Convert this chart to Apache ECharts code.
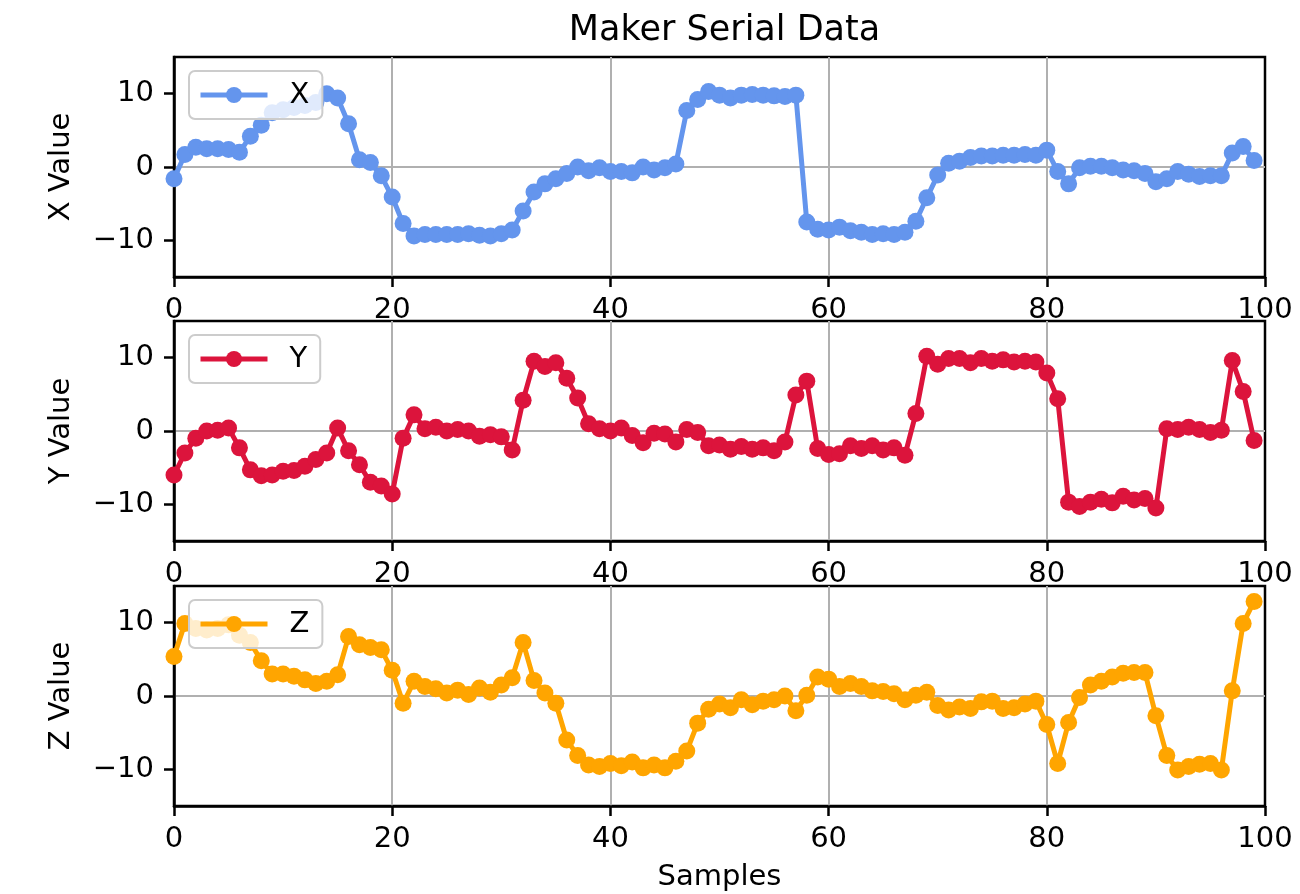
<!DOCTYPE html>
<html>
<head>
<meta charset="utf-8">
<title>Maker Serial Data</title>
<script src="https://cdn.jsdelivr.net/npm/echarts@6/dist/echarts.min.js"></script>
<style>
  html, body { margin: 0; padding: 0; background: #fff; }
  #chart { width: 1300px; height: 894px; }
</style>
</head>
<body>
<div id="chart"></div>
<script>
// Accelerometer readings, one value per sample (0..99)
const xValues = [
  -1.6, 1.7, 2.7, 2.5, 2.5, 2.4, 2.0, 4.2, 5.7, 7.4,
  7.8, 8.1, 8.4, 8.8, 10.0, 9.4, 5.9, 1.0, 0.6, -1.2,
  -4.1, -7.7, -9.4, -9.2, -9.2, -9.2, -9.2, -9.1, -9.3, -9.4,
  -9.1, -8.6, -6.0, -3.4, -2.3, -1.6, -0.9, 0.0, -0.5, -0.1,
  -0.6, -0.6, -0.8, 0.0, -0.4, -0.1, 0.4, 7.7, 9.2, 10.3,
  9.8, 9.4, 9.8, 9.9, 9.8, 9.7, 9.6, 9.8, -7.5, -8.5,
  -8.6, -8.2, -8.7, -8.9, -9.2, -9.1, -9.2, -8.9, -7.4, -4.2,
  -1.1, 0.5, 0.8, 1.3, 1.5, 1.5, 1.6, 1.6, 1.7, 1.6,
  2.3, -0.6, -2.3, -0.1, 0.1, 0.1, -0.1, -0.4, -0.5, -0.9,
  -2.0, -1.6, -0.6, -1.0, -1.3, -1.2, -1.2, 1.9, 2.8, 0.9
];
const yValues = [
  -6.0, -3.0, -1.0, 0.0, 0.1, 0.4, -2.3, -5.3, -6.1, -6.0,
  -5.5, -5.4, -4.8, -3.9, -3.0, 0.4, -2.7, -4.6, -7.0, -7.5,
  -8.6, -1.0, 2.2, 0.3, 0.5, 0.0, 0.2, 0.0, -0.7, -0.5,
  -0.8, -2.6, 4.2, 9.5, 8.8, 9.3, 7.2, 4.5, 1.0, 0.3,
  0.0, 0.4, -0.6, -1.6, -0.3, -0.4, -1.5, 0.2, -0.2, -2.0,
  -1.9, -2.5, -2.1, -2.5, -2.3, -2.7, -1.5, 4.9, 6.8, -2.4,
  -3.2, -3.1, -2.0, -2.4, -2.0, -2.6, -2.3, -3.3, 2.4, 10.2,
  9.1, 9.9, 9.9, 9.3, 9.9, 9.5, 9.7, 9.4, 9.5, 9.4,
  7.9, 4.4, -9.7, -10.3, -9.7, -9.3, -9.8, -8.9, -9.4, -9.2,
  -10.5, 0.3, 0.2, 0.5, 0.2, -0.2, 0.1, 9.6, 5.4, -1.3
];
const zValues = [
  5.4, 9.9, 9.2, 9.0, 9.2, 9.7, 8.3, 7.3, 4.8, 3.0,
  3.0, 2.7, 2.2, 1.7, 2.0, 2.9, 8.1, 7.0, 6.6, 6.3,
  3.5, -1.0, 2.0, 1.3, 1.0, 0.4, 0.8, 0.2, 1.1, 0.5,
  1.5, 2.5, 7.3, 2.1, 0.4, -1.0, -6.0, -8.1, -9.4, -9.6,
  -9.2, -9.5, -9.0, -9.8, -9.4, -9.8, -8.9, -7.5, -3.7, -1.8,
  -1.1, -1.6, -0.5, -1.2, -0.7, -0.5, 0.0, -2.0, 0.1, 2.6,
  2.3, 1.3, 1.7, 1.3, 0.7, 0.6, 0.3, -0.5, 0.1, 0.5,
  -1.3, -1.9, -1.5, -1.7, -0.8, -0.7, -1.7, -1.6, -1.1, -0.7,
  -3.9, -9.2, -3.6, -0.2, 1.5, 2.0, 2.6, 3.1, 3.2, 3.2,
  -2.7, -8.1, -10.1, -9.6, -9.3, -9.2, -10.1, 0.7, 9.9, 12.9
];

const seriesNames = ['X', 'Y', 'Z'];
const axisTitles = ['X Value', 'Y Value', 'Z Value'];
const seriesColors = ['#6495ED', '#DC143C', '#FFA500'];
const yTickValues = [-10, 0, 10];
const chartTitle = 'Maker Serial Data';
const xAxisTitle = 'Samples';

const allValues = [xValues, yValues, zValues];
const FONT = 'DejaVu Sans';
const GRID_TOPS = [57, 321, 586];
const GRID_H = 220;
const PLOT_LEFT = 174, PLOT_RIGHT_GAP = 35;
const LINE_W = 5;

const minusFmt = v => (v < 0 ? '\u2212' + Math.abs(v) : String(v));

const grids = [], xAxes = [], yAxes = [], series = [], legends = [];

allValues.forEach((vals, i) => {
  grids.push({
    left: PLOT_LEFT, right: PLOT_RIGHT_GAP, top: GRID_TOPS[i], height: GRID_H,
    show: true, borderColor: '#000', borderWidth: 2.5, backgroundColor: 'transparent',
    containLabel: false
  });
  xAxes.push({
    type: 'value', gridIndex: i, min: 0, max: 100, interval: 20,
    name: i === 2 ? xAxisTitle : '',
    nameLocation: 'middle', nameGap: 57,
    nameTextStyle: { fontFamily: FONT, fontSize: 29, color: '#000' },
    axisLine: { show: true, onZero: false, lineStyle: { color: '#000', width: 2.5 } },
    axisTick: { show: true, inside: false, length: 10, lineStyle: { color: '#000', width: 2.5 } },
    axisLabel: { fontFamily: FONT, fontSize: 29, color: '#000', margin: 19 },
    splitLine: { show: true, showMinLine: false, showMaxLine: false,
      lineStyle: { color: '#b0b0b0', width: 2 } }
  });
  yAxes.push({
    type: 'value', gridIndex: i, min: -15, max: 15, splitNumber: 3,
    name: axisTitles[i], nameLocation: 'middle', nameGap: 98,
    nameTextStyle: { fontFamily: FONT, fontSize: 29, color: '#000' },
    axisLine: { show: true, lineStyle: { color: '#000', width: 2.5 } },
    axisTick: { show: true, inside: false, length: 10, customValues: yTickValues,
      lineStyle: { color: '#000', width: 2.5 } },
    axisLabel: { fontFamily: FONT, fontSize: 29, color: '#000', margin: 20,
      customValues: yTickValues, formatter: minusFmt },
    splitLine: { show: true, showMinLine: false, showMaxLine: false,
      lineStyle: { color: '#b0b0b0', width: 2 } }
  });
  series.push({
    name: seriesNames[i], type: 'line', xAxisIndex: i, yAxisIndex: i,
    data: vals.map((v, k) => [k, v]),
    symbol: 'circle', symbolSize: 17, showSymbol: true,
    lineStyle: { color: seriesColors[i], width: LINE_W },
    itemStyle: { color: seriesColors[i] },
    emphasis: { disabled: true },
    z: 3
  });
  legends.push({
    data: [seriesNames[i]],
    left: 189, top: GRID_TOPS[i] + 14,
    orient: 'horizontal',
    itemWidth: 67, itemHeight: 20,
    padding: [8, 13, 8, 9],
    backgroundColor: 'rgba(255,255,255,0.8)',
    borderColor: '#cccccc', borderWidth: 2, borderRadius: 6,
    lineStyle: { width: LINE_W },
    textStyle: { fontFamily: FONT, fontSize: 29, color: '#000', lineHeight: 32,
      padding: [0, 0, 0, 17] },
    selectedMode: false,
    z: 10
  });
});

const chart = echarts.init(document.getElementById('chart'), null, { renderer: 'canvas' });
chart.setOption({
  animation: false,
  backgroundColor: '#fff',
  title: {
    text: chartTitle, left: 719.5, top: 8, textAlign: 'center',
    textStyle: { fontFamily: FONT, fontSize: 35, fontWeight: 'normal', color: '#000' }
  },
  legend: legends,
  grid: grids,
  xAxis: xAxes,
  yAxis: yAxes,
  series: series
});
</script>
</body>
</html>
